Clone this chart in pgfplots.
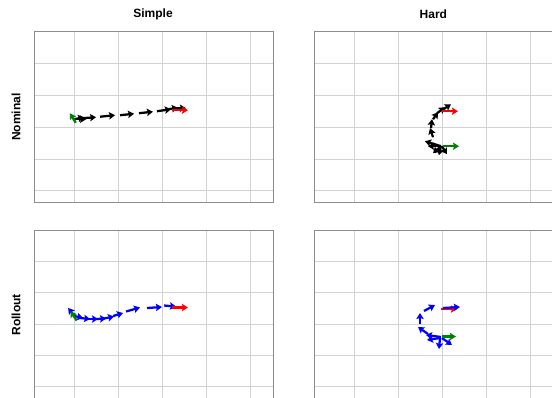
\documentclass[border=0pt]{standalone}
\usepackage{pgfplots}
\pgfplotsset{compat=1.18}
\usepackage{pgfplotstable}
\usepackage{fontspec}
\setmainfont{Liberation Sans}
\usetikzlibrary{arrows.meta}
\definecolor{framegray}{RGB}{140,140,140}
\definecolor{gridgray}{RGB}{210,210,210}
\definecolor{mplgreen}{RGB}{0,128,0}

% --- Simple / Nominal
\pgfplotstableread{
x y u v
0.030 2.140 -0.136 0.300
}\tlgreen
\pgfplotstableread{
x y u v
-0.007 2.251 0.227 0.063
0.039 2.251 0.227 0.000
0.175 2.283 0.318 0.031
0.584 2.330 0.341 0.047
1.039 2.377 0.318 0.047
1.470 2.440 0.318 0.047
1.880 2.502 0.318 0.063
2.061 2.549 0.295 0.063
2.220 2.597 0.318 0.000
}\tlpath
\pgfplotstableread{
x y u v
2.220 2.534 0.364 0.000
}\tlred

% --- Hard / Nominal
\pgfplotstableread{
x y u v
2.016 1.403 0.364 0.000
}\trgreen
\pgfplotstableread{
x y u v
1.970 1.403 -0.364 0.157
1.970 1.403 -0.295 0.000
1.970 1.403 -0.182 -0.220
1.970 1.403 -0.045 -0.283
1.993 1.403 0.114 -0.251
1.789 1.686 -0.068 0.283
1.743 1.969 0.023 0.283
1.789 2.251 0.114 0.220
1.880 2.440 0.182 0.188
1.993 2.534 0.205 0.188
}\trpath
\pgfplotstableread{
x y u v
1.993 2.502 0.364 0.000
}\trred

% --- Simple / Rollout
\pgfplotstableread{
x y u v
0.050 2.110 -0.136 0.300
}\blgreen
\pgfplotstableread{
x y u v
-0.052 2.351 -0.091 0.160
-0.007 2.255 0.205 -0.064
0.130 2.191 0.227 -0.032
0.311 2.159 0.227 0.000
0.493 2.159 0.227 0.016
0.675 2.175 0.227 0.064
0.880 2.255 0.227 0.096
1.175 2.399 0.318 0.128
1.652 2.510 0.341 0.032
2.039 2.590 0.273 -0.032
}\blpath
\pgfplotstableread{
x y u v
2.220 2.526 0.364 0.000
}\blred

% --- Hard / Rollout
\pgfplotstableread{
x y u v
1.993 1.601 0.318 0.000
}\brgreen
\pgfplotstableread{
x y u v
1.970 1.585 -0.341 0.064
1.948 1.553 -0.295 -0.064
1.948 1.553 -0.023 -0.351
1.993 1.553 0.227 -0.223
1.675 1.681 -0.227 0.223
1.493 2.000 0.000 0.351
1.584 2.415 0.250 0.191
2.016 2.510 0.386 0.032
}\brpath
\pgfplotstableread{
x y u v
1.970 2.478 0.364 0.000
}\brred

\pgfplotsset{
  panel/.style={
    scale only axis,
    width=179.25pt, height=128.2pt,
    xmin=-0.92, xmax=4.52,
    ymax=5,
    xtick={0,1,2,3,4}, ytick={0,1,2,3,4},
    xticklabels={}, yticklabels={},
    major tick length=0pt,
    grid=major,
    major grid style={gridgray, line width=0.6pt},
    axis line style={framegray, line width=0.7pt},
    clip=false,
  },
  arr/.style={line width=1.7pt,
    quiver={u=\thisrow{u}, v=\thisrow{v},
      every arrow/.append style={line width=1.7pt,
        -{Stealth[length=4.5pt,width=5.5pt,inset=0.8pt]}}}},
}

\begin{document}
\begin{tikzpicture}
\path[use as bounding box, clip] (0,0) rectangle (414pt,298.5pt);

\begin{axis}[panel, ymin=-0.37, at={(25.5pt,274.7pt)}, anchor=north west]
\addplot[black, arr] table {\tlpath};
\addplot[mplgreen, arr] table {\tlgreen};
\addplot[red, arr] table {\tlred};
\end{axis}

\begin{axis}[panel, ymin=-0.37, at={(235.5pt,274.7pt)}, anchor=north west]
\addplot[black, arr] table {\trpath};
\addplot[mplgreen, arr] table {\trgreen};
\addplot[red, arr] table {\trred};
\end{axis}

\begin{axis}[panel, ymin=-0.455, at={(25.5pt,126pt)}, anchor=north west]
\addplot[blue, arr] table {\blpath};
\addplot[mplgreen, arr] table {\blgreen};
\addplot[red, arr] table {\blred};
\end{axis}

\begin{axis}[panel, ymin=-0.455, at={(235.5pt,126pt)}, anchor=north west]
\addplot[red, arr] table {\brred};
\addplot[blue, arr] table {\brpath};
\addplot[mplgreen, arr] table {\brgreen};
\end{axis}

\node[font=\fontsize{9}{11}\selectfont\bfseries] at (114.75pt,288pt) {Simple};
\node[font=\fontsize{9}{11}\selectfont\bfseries] at (325pt,288pt) {Hard};
\node[font=\fontsize{9}{11}\selectfont\bfseries, rotate=90] at (12pt,210.6pt) {Nominal};
\node[font=\fontsize{9}{11}\selectfont\bfseries, rotate=90] at (12pt,62.3pt) {Rollout};
\end{tikzpicture}
\end{document}
